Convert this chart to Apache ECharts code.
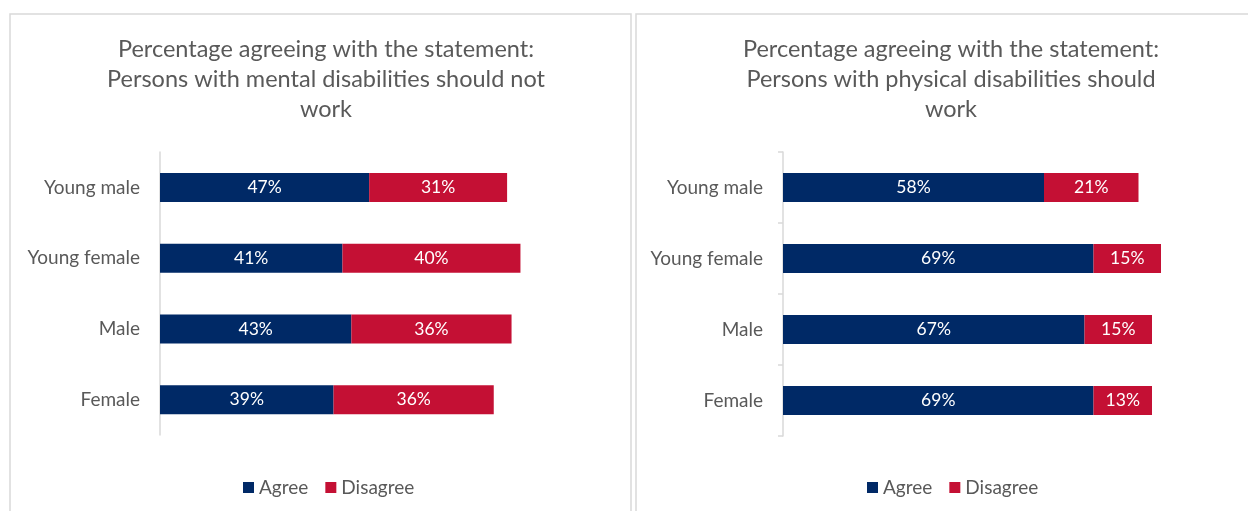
<!DOCTYPE html>
<html>
<head>
<meta charset="utf-8">
<script src="https://cdn.jsdelivr.net/npm/echarts@6/dist/echarts.min.js"></script>
<style>
  html, body { margin: 0; padding: 0; background: #fff; }
  #chart { width: 1248px; height: 511px; }
</style>
</head>
<body>
<div id="chart"></div>
<script>
const categories = ['Young male', 'Young female', 'Male', 'Female'];
const seriesNames = ['Agree', 'Disagree'];
const mentalAgree = [47, 41, 43, 39];
const mentalDisagree = [31, 40, 36, 36];
const physicalAgree = [58, 69, 67, 69];
const physicalDisagree = [21, 15, 15, 13];
const titles = [
  'Percentage agreeing with the statement:\nPersons with mental disabilities should not\nwork',
  'Percentage agreeing with the statement:\nPersons with physical disabilities should\nwork'
];

const FONT = 'Lato';
const GREY = '#595959';
const NAVY = '#002966';
const RED = '#C41034';
const LINE = '#d9d9d9';

const chart = echarts.init(document.getElementById('chart'), null, { renderer: 'canvas' });

function barSeries(name, data, idx, color) {
  return {
    name: name,
    type: 'bar',
    stack: 'total' + idx,
    xAxisIndex: idx,
    yAxisIndex: idx,
    barWidth: 29,
    data: data,
    itemStyle: { color: color },
    label: {
      show: true,
      position: 'inside',
      formatter: '{c}%',
      color: '#ffffff',
      fontFamily: FONT,
      fontSize: 17.5
    },
    emphasis: { disabled: true }
  };
}

function catAxis(idx, showTicks) {
  return {
    type: 'category',
    gridIndex: idx,
    data: categories,
    inverse: true,
    axisLine: { show: true, lineStyle: { color: LINE, width: 1.5 } },
    axisTick: { show: showTicks, length: 5, lineStyle: { color: LINE, width: 1.5 } },
    axisLabel: { color: GREY, fontFamily: FONT, fontSize: 19, margin: 20 }
  };
}

function valAxis(idx) {
  return { type: 'value', gridIndex: idx, min: 0, max: 100, show: false };
}

const titleStyle = { color: GREY, fontFamily: FONT, fontSize: 23.5, fontWeight: 'normal', lineHeight: 30 };
const legendStyle = { color: GREY, fontFamily: FONT, fontSize: 19 };

chart.setOption({
  animation: false,
  textStyle: { fontFamily: FONT },
  graphic: [
    { type: 'rect', shape: { x: 10, y: 14, width: 621, height: 520 },
      style: { fill: 'none', stroke: LINE, lineWidth: 1.5 } },
    { type: 'rect', shape: { x: 636, y: 14, width: 630, height: 520 },
      style: { fill: 'none', stroke: LINE, lineWidth: 1.5 } }
  ],
  title: [
    { text: titles[0], left: 321, top: 29, textAlign: 'center', textStyle: titleStyle },
    { text: titles[1], left: 946, top: 29, textAlign: 'center', textStyle: titleStyle }
  ],
  legend: [
    { data: seriesNames, left: 238, top: 473, icon: 'rect', itemWidth: 11, itemHeight: 11, itemGap: 17,
      textStyle: legendStyle },
    { data: seriesNames, left: 862, top: 473, icon: 'rect', itemWidth: 11, itemHeight: 11, itemGap: 17,
      textStyle: legendStyle }
  ],
  grid: [
    { left: 160, top: 152, width: 445, height: 283 },
    { left: 783, top: 152, width: 450, height: 284 }
  ],
  xAxis: [valAxis(0), valAxis(1)],
  yAxis: [catAxis(0, false), catAxis(1, true)],
  series: [
    barSeries(seriesNames[0], mentalAgree, 0, NAVY),
    barSeries(seriesNames[1], mentalDisagree, 0, RED),
    barSeries(seriesNames[0], physicalAgree, 1, NAVY),
    barSeries(seriesNames[1], physicalDisagree, 1, RED)
  ]
});
</script>
</body>
</html>
